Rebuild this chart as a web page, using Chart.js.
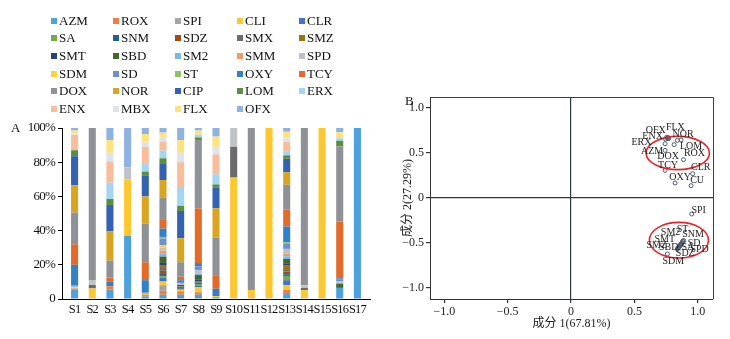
<!DOCTYPE html>
<html><head><meta charset="utf-8">
<script src="https://cdn.jsdelivr.net/npm/chart.js@4.4.1/dist/chart.umd.min.js"></script>
<style>
html,body{margin:0;padding:0;background:#fff;width:730px;height:339px;overflow:hidden;}
#wrap{position:relative;width:730px;height:339px;font-family:"Liberation Serif","Times New Roman",serif;color:#111;}
#cA{position:absolute;left:0;top:0;}
#cB{position:absolute;left:385px;top:0;}
.lab{position:absolute;font-size:13px;line-height:13px;}
#legend{position:absolute;left:51px;top:12px;display:grid;grid-template-columns:repeat(5,62px);grid-auto-rows:17.6px;font-size:13px;}
.li{display:flex;align-items:center;white-space:nowrap;}
.sw{width:6px;height:6px;margin-right:2px;flex:none;}
</style></head>
<body><div id="wrap">
<canvas id="cA" width="385" height="339"></canvas>
<canvas id="cB" width="345" height="339"></canvas>
<div id="legend"></div>
<div class="lab" style="left:11px;top:121px;">A</div>
<div class="lab" style="left:405px;top:94px;">B</div>
</div>
<script>
// ---------- Panel A data (percent of total, S1..S17) ----------
const samples = ['S1','S2','S3','S4','S5','S6','S7','S8','S9','S10','S11','S12','S13','S14','S15','S16','S17'];
const compNames = ['AZM','ROX','SPI','CLI','CLR','SA','SNM','SDZ','SMX','SMZ','SMT','SBD','SM2','SMM','SPD','SDM','SD','ST','OXY','TCY','DOX','NOR','CIP','LOM','ERX','ENX','MBX','FLX','OFX'];
const AZM = [5.5, 0, 5.5, 37, 1.5, 2.5, 2.5, 2.5, 0.6, 0, 0, 0, 2.9, 0, 0, 6.5, 100];
const ROX = [0.6, 0, 2, 0, 0.8, 2.3, 2, 1.4, 0.5, 0, 0, 0, 2.5, 0, 0, 0, 0];
const SPI = [0, 0, 0, 0, 0, 3.3, 0, 0, 0, 0, 0, 0, 0, 0, 0, 0, 0];
const CLI = [0.6, 6.2, 0, 33, 0.8, 2.1, 1, 2.9, 0.6, 71, 5.3, 100, 2.7, 5.2, 100, 0, 0];
const CLR = [0, 0, 0, 0, 0, 2.3, 0, 1.2, 0, 0, 0, 0, 2.9, 0, 0, 0, 0];
const SA  = [0, 0, 0, 0, 0, 1, 0, 0.8, 0, 0, 0, 0, 2.5, 0, 0, 0, 0];
const SNM = [0, 0, 0, 0, 0, 1.6, 0.8, 0.8, 0, 0, 0, 0, 1, 0, 0, 0, 0];
const SDZ = [0, 0, 0, 0, 0, 1.4, 0, 0, 0, 0, 0, 0, 1.6, 0, 0, 0, 0];
const SMX = [0, 2, 0, 0, 0, 1.6, 1, 0.8, 0, 18, 0, 0, 1.4, 1.3, 0, 0, 0];
const SMZ = [0, 0, 0, 0, 0, 1.4, 0, 0, 0, 0, 0, 0, 2, 0, 0, 0, 0];
const SMT = [0, 0, 0, 0, 0, 1.6, 0, 0.8, 0, 0, 0, 0, 1.4, 0, 0, 0, 0];
const SBD = [0, 0, 0, 0, 0, 3.7, 1, 2.8, 0, 0, 0, 0, 2.5, 0, 0, 2.5, 0];
const SM2 = [0, 0, 0, 0, 0, 1.6, 0, 1, 0, 0, 0, 0, 1.6, 0, 0, 0, 0];
const SMM = [0, 0, 0, 0, 0, 2, 0, 0, 0, 0, 0, 0, 1.4, 0, 0, 0, 0];
const SPD = [0.5, 2.9, 0, 7, 0, 1.6, 0.7, 2, 0, 11, 0, 0, 2.9, 1.5, 0, 1.5, 0];
const SDM = [0, 0, 0, 0, 0, 1.4, 0, 0, 0, 0, 0, 0, 0, 0, 0, 0, 0];
const SD  = [0.8, 0, 0, 0, 0.9, 3.9, 1, 2, 0, 0, 0, 0, 2.9, 0, 0, 0.8, 0];
const ST  = [0, 0, 0, 0, 0, 1, 0, 0, 0, 0, 0, 0, 1, 0, 0, 0, 0];
const OXY = [12, 0, 2.5, 0, 7, 4.9, 1, 2, 4.3, 0, 0, 0, 9.2, 0, 0, 0.8, 0];
const TCY = [12, 0, 2.5, 0, 10.5, 5.5, 2, 32, 7.5, 0, 0, 0, 9.8, 0, 0, 33.2, 0];
const DOX = [18.5, 88.9, 10, 0, 22.5, 12.7, 8.5, 40, 22.5, 0, 94.7, 0, 14.6, 92, 0, 44, 0];
const NOR = [16, 0, 17, 0, 16, 10.2, 14, 0, 17, 0, 0, 0, 7.4, 0, 0, 0, 0];
const CIP = [17, 0, 15.5, 0, 12, 9.8, 16, 0, 12, 0, 0, 0, 7.8, 0, 0, 0, 0];
const LOM = [3.5, 0, 3.5, 0, 2.5, 2.9, 3, 1.5, 2, 0, 0, 0, 2, 0, 0, 3.2, 0];
const ERX = [0, 0, 9.5, 0, 5, 4.5, 11, 1.5, 6, 0, 0, 0, 2, 0, 0, 1.5, 0];
const ENX = [9, 0, 12.5, 0, 9.5, 5.3, 14.5, 0, 11.5, 0, 0, 0, 5.9, 0, 0, 0, 0];
const MBX = [1, 0, 5, 0, 2.5, 2.5, 5.5, 0, 4.5, 0, 0, 0, 2, 0, 0, 0, 0];
const FLX = [1.5, 0, 7.5, 0, 5, 2.7, 7.5, 2.5, 6, 0, 0, 0, 3.9, 0, 0, 3.5, 0];
const OFX = [1.5, 0, 7, 23, 3.5, 2.7, 7, 1.5, 5, 0, 0, 0, 2.2, 0, 0, 2.5, 0];
const compValues = [AZM,ROX,SPI,CLI,CLR,SA,SNM,SDZ,SMX,SMZ,SMT,SBD,SM2,SMM,SPD,SDM,SD,ST,OXY,TCY,DOX,NOR,CIP,LOM,ERX,ENX,MBX,FLX,OFX];
const yTicksA = [0,10,20,30,40,50,60,70,80,90,100];

// ---------- Panel B data (PCA loadings) ----------
const pcaNames = ['OFX','ENX','ERX','CIP','MBX','FLX','NOR','LOM','AZM','DOX','ROX','TCY','CLR','OXY','CU','SPI',
                  'SM2','ST','SNM','SMT','SD','SMZ','SBD','SA','SPD','SDZ','SMX','SMM','CLI','SDM'];
const pc1 = [0.755,0.762,0.745,0.770,0.766,0.839,0.868,0.813,0.742,0.742,0.887,0.742,0.960,0.821,0.947,0.952,
             0.880,0.888,0.884,0.858,0.876,0.842,0.850,0.866,0.872,0.838,0.846,0.862,0.855,0.760];
const pc2 = [0.675,0.662,0.655,0.660,0.672,0.640,0.645,0.593,0.529,0.603,0.426,0.307,0.270,0.167,0.137,-0.178,
             -0.480,-0.472,-0.488,-0.520,-0.500,-0.560,-0.548,-0.515,-0.508,-0.570,-0.552,-0.530,-0.538,-0.622];
const pcaTicks = [-1,-0.5,0,0.5,1];
const ellipseCx = [0.842, 0.851];
const ellipseCy = [0.500, -0.469];
const ellipseRx = [0.250, 0.233];
const ellipseRy = [0.185, 0.198];

// ---------- styles ----------
const compColors = ['#4ca2de','#ef7f3c','#a5a5a5','#fdc82f','#4472c4','#70ad47','#255e91','#a34a16','#6b6b6b','#9a7410',
  '#264478','#43682b','#7cb8e6','#f49a66','#bfc3c7','#ffd23a','#6a8fd2','#8cc168','#3180c8','#e26b2a',
  '#8e9196','#d9a520','#3462b2','#5c8f3c','#a3d6f3','#f9bd9c','#dde3ea','#ffe27e','#8eb3e2'];
const labelOffsets = {OFX:[-11,-7],ENX:[-15,-2],ERX:[-24,3],FLX:[-2,-13],NOR:[2,-6],LOM:[17,2],AZM:[-13,1],
  DOX:[3,13],ROX:[11,-6],TCY:[3,-5],CLR:[8,-6],OXY:[5,-6],CU:[6,-5],SPI:[7,-4],
  ST:[-1,-11.5],SM2:[-12,-9],SNM:[10,-8],SMT:[-15,-5],SD:[12,0],SMZ:[-21,-3],SBD:[-10,0],SA:[7,3],SPD:[18,6],SDZ:[8,4],SDM:[6,7]};
const serif = '"Liberation Serif","Times New Roman","Noto Sans CJK SC",serif';

// legend (HTML, built from the series)
const lg = document.getElementById('legend');
compNames.forEach((n,k)=>{
  const d=document.createElement('div'); d.className='li';
  d.innerHTML='<span class="sw" style="background:'+compColors[k]+'"></span>'+n;
  lg.appendChild(d);
});

const tightText = {
  id:'tightText',
  beforeDraw(chart){ chart.ctx.letterSpacing='-0.8px'; },
  afterDraw(chart){ chart.ctx.letterSpacing='0px'; }
};

new Chart(document.getElementById('cA'), {
  type:'bar',
  data:{datasets: compNames.map((n,k)=>({
    label:n, data: compValues[k].map((v,i)=>({x:i,y:v})),
    backgroundColor: compColors[k], borderWidth:0, stack:'s',
    barPercentage:0.4, categoryPercentage:1
  }))},
  options:{
    responsive:false, animation:false, devicePixelRatio:1,
    layout:{padding:{top:128,right:15,bottom:10,left:0}},
    plugins:{legend:{display:false}, tooltip:{enabled:false}},
    scales:{
      x:{type:'linear', min:-0.2, max:16.2,
         afterBuildTicks:s=>{ s.ticks = samples.map((_,i)=>({value:i})); },
         ticks:{callback:v=>samples[v], font:{family:serif,size:12.5}, color:'#111', padding:3, maxRotation:0, autoSkip:false},
         grid:{display:false, drawTicks:false, tickLength:0}, border:{display:true,color:'#000',width:1},
         afterFit:s=>{ s.height=30; }},
      y:{stacked:true, min:0, max:100,
         afterBuildTicks:s=>{ s.ticks = yTicksA.map(v=>({value:v})); },
         ticks:{callback:v=>v===0?'0':v+'%', font:{family:serif,size:13}, color:'#111', padding:3},
         grid:{drawOnChartArea:false, tickLength:4, color:'#000'}, border:{color:'#000',width:1},
         afterFit:s=>{ s.width=62; }}
    }
  },
  plugins:[tightText]
});

const fmt = v => v===0 ? '0' : (v<0?'\u2212':'') + Math.abs(v).toFixed(1);
const zeroGrid = c => (c.tick && c.tick.value===0) ? '#2e3a46' : 'rgba(0,0,0,0)';

const overlayPlugin = {
  id:'overlay',
  beforeDatasetsDraw(chart){
    const {ctx, chartArea:a} = chart;
    ctx.save();
    ctx.strokeStyle='#3a3f44'; ctx.lineWidth=1;
    ctx.beginPath();
    ctx.moveTo(a.left, a.top+0.5); ctx.lineTo(a.right+0.5, a.top+0.5); ctx.lineTo(a.right+0.5, a.bottom);
    ctx.stroke();
    ctx.restore();
  },
  afterDatasetsDraw(chart){
    const {ctx, scales:{x,y}} = chart;
    ctx.save();
    ctx.strokeStyle='#e3262b'; ctx.lineWidth=1.6;
    ellipseCx.forEach((cx,i)=>{
      const px=x.getPixelForValue(cx), py=y.getPixelForValue(ellipseCy[i]);
      const rx=Math.abs(x.getPixelForValue(cx+ellipseRx[i])-px);
      const ry=Math.abs(y.getPixelForValue(ellipseCy[i]+ellipseRy[i])-py);
      ctx.beginPath(); ctx.ellipse(px,py,rx,ry,0,0,Math.PI*2); ctx.stroke();
    });
    ctx.fillStyle='#222'; ctx.font='10px '+serif; ctx.textAlign='center'; ctx.textBaseline='middle';
    pcaNames.forEach((n,i)=>{
      const o=labelOffsets[n]; if(!o) return;
      ctx.fillText(n, x.getPixelForValue(pc1[i])+o[0], y.getPixelForValue(pc2[i])+o[1]);
    });
    ctx.restore();
  }
};

new Chart(document.getElementById('cB'), {
  type:'scatter',
  data:{datasets:[{data: pc1.map((v,i)=>({x:v,y:pc2[i]})),
    pointRadius:2, pointBorderWidth:1, borderColor:'#4a5a6c', backgroundColor:'rgba(255,255,255,0)'}]},
  options:{
    responsive:false, animation:false, devicePixelRatio:1,
    layout:{padding:{top:97,right:17,bottom:5,left:0}},
    plugins:{legend:{display:false}, tooltip:{enabled:false}},
    scales:{
      x:{type:'linear', min:-1.113, max:1.12,
         afterBuildTicks:s=>{ s.ticks = pcaTicks.map(v=>({value:v})); },
         ticks:{callback:fmt, font:{family:serif,size:12}, color:'#222', padding:2, maxRotation:0},
         grid:{color:zeroGrid, tickColor:'#333', tickLength:4, lineWidth:1.2},
         border:{color:'#333',width:1},
         title:{display:true, text:'成分 1(67.81%)', font:{family:serif,size:12}, color:'#222', padding:{top:0,bottom:3}},
         afterFit:s=>{ s.height=35; }},
      y:{type:'linear', min:-1.122, max:1.122,
         afterBuildTicks:s=>{ s.ticks = pcaTicks.map(v=>({value:v})); },
         ticks:{callback:fmt, font:{family:serif,size:12}, color:'#222', padding:2},
         grid:{color:zeroGrid, tickColor:'#333', tickLength:4, lineWidth:1.2},
         border:{color:'#333',width:1},
         title:{display:true, text:'成分 2(27.29%)', font:{family:serif,size:12}, color:'#222', padding:{top:16,bottom:0}},
         afterFit:s=>{ s.width=45; }}
    }
  },
  plugins:[overlayPlugin]
});
</script>
</body></html>
